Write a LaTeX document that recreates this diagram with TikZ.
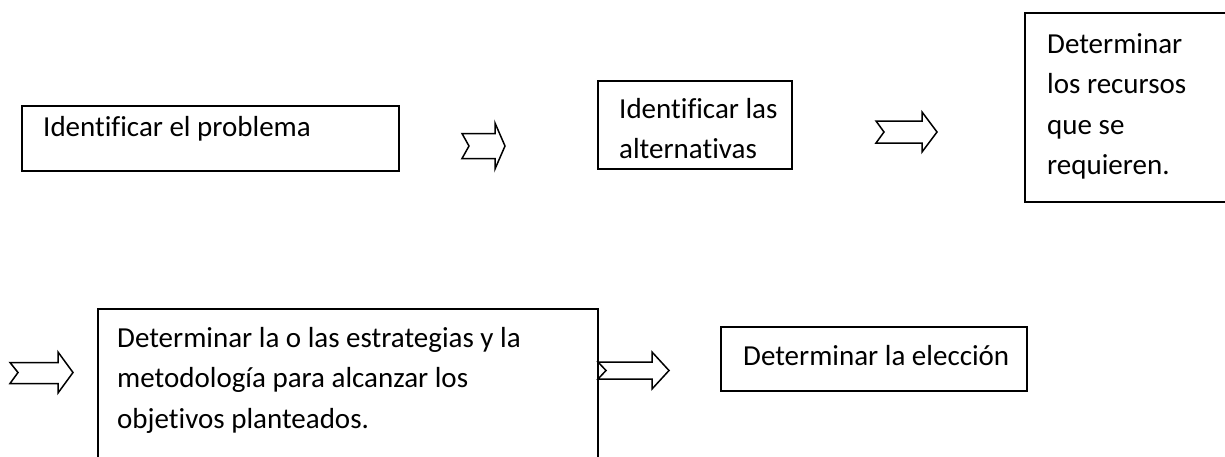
\documentclass[tikz,border=0pt]{standalone}
\usepackage{fontspec}
\setmainfont[Ligatures={NoCommon,NoContextual,NoRare}]{Carlito}
\begin{document}
\begin{tikzpicture}[x=1pt,y=-1pt,
  boxnode/.style={draw=black,line width=1.4pt,rectangle,inner sep=0pt,fill=none},
  txt/.style={anchor=base west,inner sep=0pt,font=\fontsize{29}{40.5}\selectfont},
  blockarrow/.style={draw=black,line width=1.5pt,line join=miter,fill=white}]
\useasboundingbox (0,0) rectangle (1225,456);
\clip (0,0) rectangle (1225,456);
% boxes
\node[boxnode,minimum width=194pt,minimum height=88pt] (b2) at (695,125) {};
\node[boxnode,minimum width=377pt,minimum height=65pt] (b1) at (210.5,138.5) {};
\node[boxnode,minimum width=215pt,minimum height=189pt] (b3) at (1132.5,107.5) {};
\node[boxnode,minimum width=500pt,minimum height=171pt] (b4) at (348,394.5) {};
\node[boxnode,minimum width=306pt,minimum height=64pt] (b5) at (874,359) {};
% texts
\node[txt] (t1) at (43,136) {Identificar el problema};
\node[txt] (t2) at (619,118) {\begin{tabular}[t]{@{}l@{}}Identificar las\\alternativas\end{tabular}};
\node[txt] (t3) at (1047,53) {\begin{tabular}[t]{@{}l@{}}Determinar\\los recursos\\que se\\requieren.\end{tabular}};
\node[txt] (t4) at (117,347) {\begin{tabular}[t]{@{}l@{}}Determinar la o las estrategias y la\\metodología para alcanzar los\\objetivos planteados.\end{tabular}};
\node[txt] (t5) at (743,365) {Determinar la elección};
% block arrows
\draw[blockarrow] (462,133.5) -- (495,133.5) -- (495,123) -- (505,146) -- (495,169) -- (495,158.5) -- (462,158.5) -- (469,146) -- cycle;
\draw[blockarrow] (876,121) -- (922,121) -- (922,112) -- (937,132) -- (922,152) -- (922,143) -- (876,143) -- (884,132) -- cycle;
\draw[blockarrow] (10,362.5) -- (58,362.5) -- (58,352) -- (73,372.5) -- (58,393) -- (58,383.5) -- (10,383.5) -- (18,372.5) -- cycle;
\draw[blockarrow] (598,362) -- (652,362) -- (652,352) -- (669,370.5) -- (652,389) -- (652,379) -- (598,379) -- (606,370.5) -- cycle;
\end{tikzpicture}
\end{document}
